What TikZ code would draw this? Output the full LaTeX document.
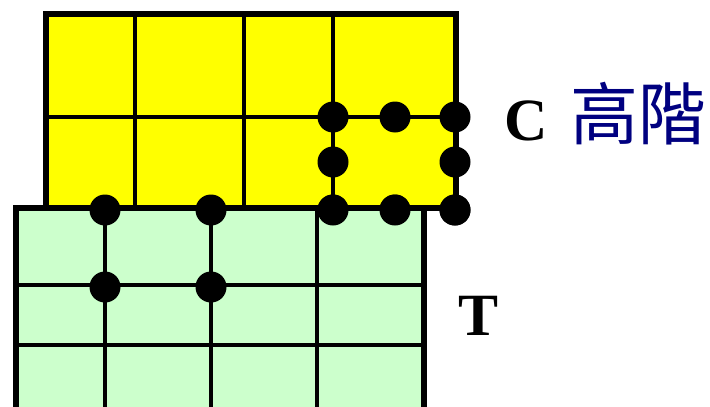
\documentclass[tikz,border=0pt]{standalone}
\usepackage{fontspec}
\newfontfamily\latinbold{Liberation Serif}[BoldFont={Liberation Serif Bold}]
\newfontfamily\cjk{Noto Sans CJK TC}
\definecolor{cyellow}{HTML}{FFFF00}
\definecolor{tgreen}{HTML}{CCFFCC}
\definecolor{navy}{HTML}{000080}
\tikzset{
  outer/.style={draw=black, line width=6pt},
  inner/.style={draw=black, line width=3.6pt},
  blob/.style={fill=black},
  lbl/.style={font=\latinbold\bfseries\fontsize{60}{60}\selectfont, inner sep=0pt, anchor=base west},
}
\begin{document}
\begin{tikzpicture}[x=1pt,y=-1pt]
\useasboundingbox (0,0) rectangle (710,407);
% C (yellow) grid
\fill[cyellow] (46,13.5) rectangle (456,208);
\draw[inner] (135,13.5) -- (135,208) (244,13.5) -- (244,208) (333,13.5) -- (333,208);
\draw[inner] (46,117) -- (456,117);
\draw[outer] (46,13.5) rectangle (456,208);
% C dots
\foreach \p in {(333,117),(395,117),(455,117),(333,162),(455,162),(333,210),(395,210),(455,210)}
  \fill[blob] \p circle (15.5);
% T (green) grid
\fill[tgreen] (15.5,208) rectangle (424,412);
\draw[inner] (105,208) -- (105,412) (211,208) -- (211,412) (317,208) -- (317,412);
\draw[inner] (15.5,285) -- (424,285) (15.5,345) -- (424,345);
\draw[outer] (15.5,412) -- (15.5,208) -- (424,208) -- (424,412);
% redraw C dots that sit on the green top edge
\foreach \p in {(333,210),(395,210),(455,210)}
  \fill[blob] \p circle (15.5);
% T dots
\foreach \p in {(105,210),(211,210),(105,287),(211,287)}
  \fill[blob] \p circle (15.5);
% labels
\node[lbl] (lc) at (504,140) {C};
\node[lbl] (lt) at (458,335) {T};
\node[font=\cjk\fontsize{68}{68}\selectfont, text=navy, inner sep=0pt] (gj) at (638,114) {高階};
\end{tikzpicture}
\end{document}
